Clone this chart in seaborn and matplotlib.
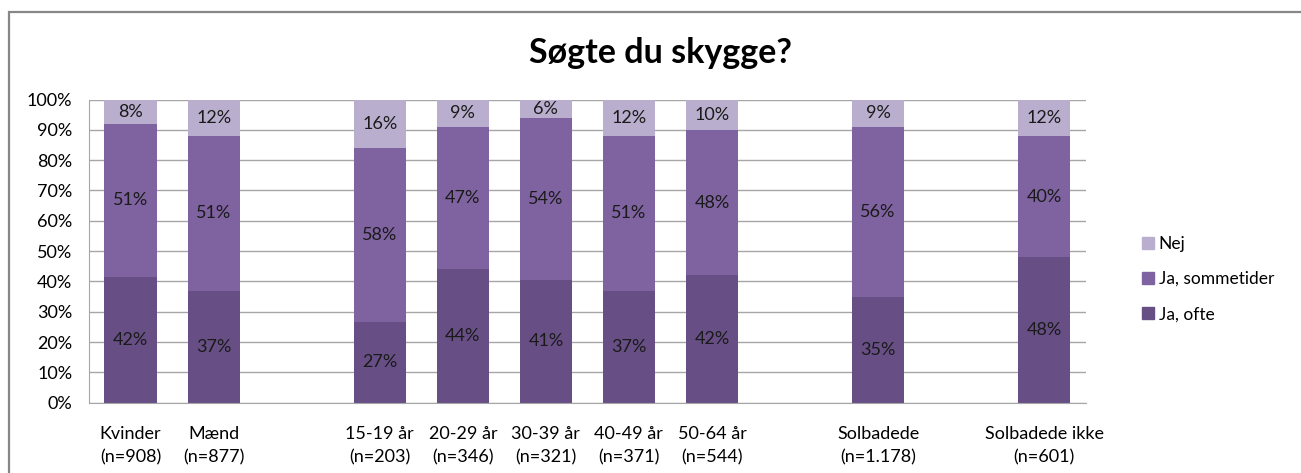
import pandas as pd
import matplotlib
matplotlib.use('Agg')
import matplotlib.pyplot as plt
from matplotlib.patches import Rectangle, Patch
import seaborn as sns

# Data (percentages as printed on the bars)
categories = ['Kvinder\n(n=908)', 'Mænd\n(n=877)',
              '15-19 år\n(n=203)', '20-29 år\n(n=346)', '30-39 år\n(n=321)',
              '40-49 år\n(n=371)', '50-64 år\n(n=544)',
              'Solbadede\n(n=1.178)', 'Solbadede ikke\n(n=601)']
ja_ofte = [42, 37, 27, 44, 41, 37, 42, 35, 48]
ja_sommetider = [51, 51, 58, 47, 54, 51, 48, 56, 40]
nej = [8, 12, 16, 9, 6, 12, 10, 9, 12]

# axis order with empty slots between the groups
order = categories[:2] + [' '] + categories[2:7] + ['  '] + [categories[7]] + ['   '] + [categories[8]]

col_ofte = '#674F85'
col_somme = '#7F63A0'
col_nej = '#BAAECE'


def build_frame():
    """100% stacked: normalise each bar and keep cumulative tops."""
    df = pd.DataFrame({'cat': categories, 'ofte': ja_ofte,
                       'somme': ja_sommetider, 'nej': nej})
    total = df['ofte'] + df['somme'] + df['nej']
    df['top_ofte'] = df['ofte'] / total * 100
    df['top_somme'] = (df['ofte'] + df['somme']) / total * 100
    df['top_nej'] = 100.0
    return df


df = build_frame()

plt.rcParams['font.family'] = ['Lato', 'DejaVu Sans']
fig = plt.figure(figsize=(13.01, 4.73), dpi=100)
ax = fig.add_axes([0.0685, 0.1486, 0.766, 0.641])

# draw from the tallest stack down so lower segments cover upper ones
bw = 0.63
sns.barplot(data=df, x='cat', y='top_nej', order=order, color=col_nej,
            width=bw, saturation=1, ax=ax, zorder=2)
sns.barplot(data=df, x='cat', y='top_somme', order=order, color=col_somme,
            width=bw, saturation=1, ax=ax, zorder=2)
sns.barplot(data=df, x='cat', y='top_ofte', order=order, color=col_ofte,
            width=bw, saturation=1, ax=ax, zorder=2)

# Labels at segment centres
lab_kw = dict(ha='center', va='center', fontsize=13, color='#1a1a1a', zorder=3)
for i, cat in enumerate(df['cat']):
    x = order.index(cat)
    r = df.iloc[i]
    ax.text(x, r['top_ofte'] / 2, f"{ja_ofte[i]}%", **lab_kw)
    ax.text(x, (r['top_ofte'] + r['top_somme']) / 2, f"{ja_sommetider[i]}%", **lab_kw)
    ax.text(x, (r['top_somme'] + 100) / 2, f"{nej[i]}%", **lab_kw)

# Axes styling
ax.set_ylim(0, 100)
ax.set_xlim(-0.5, len(order) - 0.5)
ax.set_yticks(range(0, 101, 10))
ax.set_yticklabels([f'{v}%' for v in range(0, 101, 10)], fontsize=13)
ax.tick_params(axis='y', length=0, pad=12)
ax.tick_params(axis='x', length=0, pad=17, labelsize=13)
for lbl in ax.get_xticklabels():
    lbl.set_linespacing(1.55)
ax.set_xlabel('')
ax.set_ylabel('')
ax.grid(axis='y', color='#A6A6A6', linewidth=1, zorder=0)
ax.set_axisbelow(True)
for side in ['top', 'right']:
    ax.spines[side].set_visible(False)
ax.spines['left'].set_color('#A6A6A6')
ax.spines['bottom'].set_color('#A6A6A6')

# Title
fig.text(0.508, 0.888, 'Søgte du skygge?', ha='center', va='center',
         fontsize=24.5, fontweight='bold')

# Legend
handles = [Patch(color=col_nej, label='Nej'),
           Patch(color=col_somme, label='Ja, sommetider'),
           Patch(color=col_ofte, label='Ja, ofte')]
fig.legend(handles=handles, loc='center left', bbox_to_anchor=(0.866, 0.41),
           frameon=False, fontsize=12.5, handlelength=0.65, handleheight=0.65,
           handletextpad=0.3, labelspacing=1.1)

# outer chart border
fig.patches.append(Rectangle((9 / 1301, -0.1), 1.2, (473 - 12) / 473 + 0.1,
                             transform=fig.transFigure, fill=False,
                             edgecolor='#878787', linewidth=1.6))

fig.savefig('out.png', dpi=100)
